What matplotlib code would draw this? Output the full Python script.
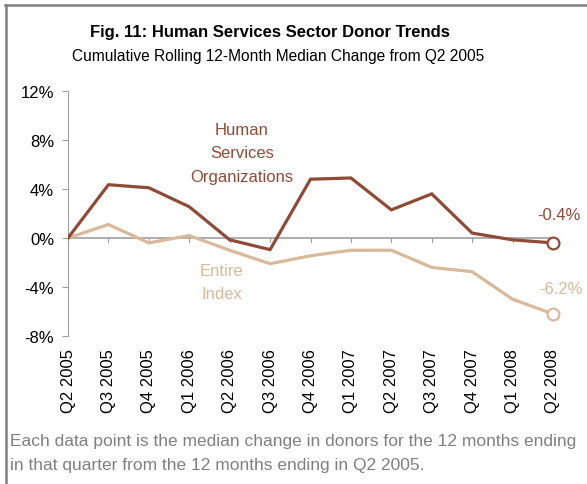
import matplotlib
matplotlib.use("Agg")
import matplotlib.pyplot as plt
from matplotlib.lines import Line2D

plt.rcParams['font.family'] = ['Liberation Sans', 'DejaVu Sans']

quarters = ["Q2 2005", "Q3 2005", "Q4 2005", "Q1 2006", "Q2 2006", "Q3 2006",
            "Q4 2006", "Q1 2007", "Q2 2007", "Q3 2007", "Q4 2007", "Q1 2008", "Q2 2008"]
human_services = [0.0, 4.35, 4.1, 2.55, -0.15, -0.95, 4.8, 4.9, 2.3, 3.6, 0.4, -0.15, -0.4]
entire_index = [0.0, 1.1, -0.4, 0.2, -1.0, -2.1, -1.45, -1.0, -1.0, -2.4, -2.75, -5.0, -6.2]
y_ticks = [12, 8, 4, 0, -4, -8]

brown = "#8E4B37"
tan = "#D9B99A"
gray_text = "#808080"

fig = plt.figure(figsize=(5.87, 4.85), dpi=100)
W, H = 587, 485
ax = fig.add_axes([68 / W, 1 - 337 / H, (553 - 68) / W, (337 - 92) / H])

x = list(range(len(quarters)))
ax.plot(x, entire_index, color=tan, lw=2.3, solid_joinstyle='miter', zorder=3)
ax.plot(x, human_services, color=brown, lw=2.3, solid_joinstyle='miter', zorder=4)
ax.plot([x[-1]], [entire_index[-1]], 'o', ms=8.5, mfc='white', mec=tan, mew=1.6,
        zorder=5, clip_on=False)
ax.plot([x[-1]], [human_services[-1]], 'o', ms=8.5, mfc='white', mec=brown, mew=1.6,
        zorder=6, clip_on=False)

ax.set_xlim(0, 12)
ax.set_ylim(-8, 12)
ax.set_yticks(y_ticks)
ax.set_yticklabels([f"{t}%" for t in y_ticks], fontsize=12)
ax.tick_params(axis='y', direction='out', length=4, color="#A0A0A0", pad=6)
for s in ['top', 'right', 'bottom']:
    ax.spines[s].set_visible(False)
ax.spines['left'].set_color("#A0A0A0")
ax.spines['left'].set_linewidth(0.8)

# zero axis line with category ticks
ax.axhline(0, color="#A0A0A0", lw=1.2, zorder=2)
for xi in x:
    ax.plot([xi, xi], [0, -0.35], color="#A0A0A0", lw=0.8, zorder=2, clip_on=False)

ax.set_xticks(x)
ax.set_xticklabels(quarters, rotation=90, fontsize=12)
ax.tick_params(axis='x', length=0, pad=9)

# series labels
ax.text(4.3, 6.95, "Human\nServices\nOrganizations", color=brown, fontsize=12,
        ha='center', va='center', linespacing=1.72)
ax.text(3.8, -3.6, "Entire\nIndex", color=tan, fontsize=12,
        ha='center', va='center', linespacing=1.72)
ax.text(12.15, 1.9, f"{human_services[-1]:.1f}%", color=brown, fontsize=12,
        ha='center', va='center')
ax.text(12.2, -4.1, f"{entire_index[-1]:.1f}%", color=tan, fontsize=12,
        ha='center', va='center')

# titles
fig.text(270 / W, 1 - 33 / H, "Fig. 11: Human Services Sector Donor Trends",
         fontsize=12, fontweight='bold', ha='center', va='center')
fig.text(278 / W, 1 - 57 / H, "Cumulative Rolling 12-Month Median Change from Q2 2005",
         fontsize=11.2, ha='center', va='center')

# footnote
fig.text(10 / W, 1 - 442 / H,
         "Each data point is the median change in donors for the 12 months ending",
         fontsize=12.5, color=gray_text, ha='left', va='center')
fig.text(10 / W, 1 - 466 / H,
         "in that quarter from the 12 months ending in Q2 2005.",
         fontsize=12.5, color=gray_text, ha='left', va='center')

# frame lines (top and left)
fig.add_artist(Line2D([5 / W, 1], [1 - 6 / H, 1 - 6 / H], color="#808080", lw=1.8,
                      transform=fig.transFigure))
fig.add_artist(Line2D([6 / W, 6 / W], [0, 1 - 6 / H], color="#808080", lw=1.8,
                      transform=fig.transFigure))

fig.savefig("out.png", dpi=100)
